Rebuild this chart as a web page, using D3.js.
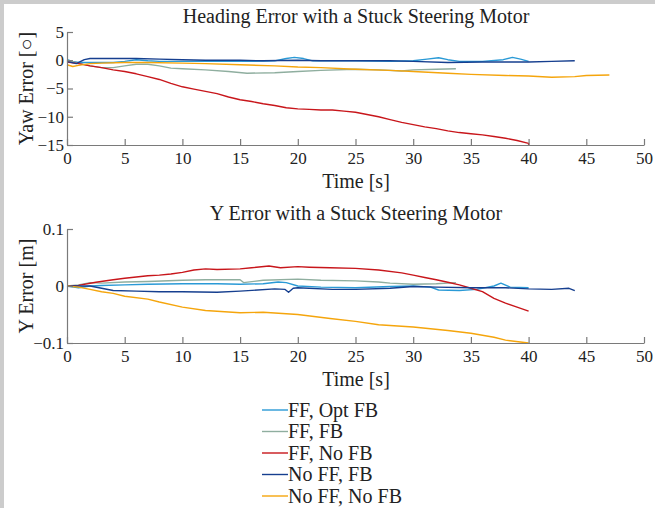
<!DOCTYPE html>
<html>
<head>
<meta charset="utf-8">
<script src="https://cdn.jsdelivr.net/npm/d3@7"></script>
<style>
  body { margin: 0; background: #fff; }
  svg text { font-family: "Liberation Serif", "DejaVu Serif", serif; fill: #222; }
</style>
</head>
<body>
<div id="chart"></div>
<script>
// Series labels and colours
const seriesNames = ["FF, Opt FB", "FF, FB", "FF, No FB", "No FF, FB", "No FF, No FB"];
const seriesColors = ["#2a9ad6", "#8fae9f", "#c8161b", "#163f8f", "#f5a50c"];

// Heading (yaw) error in degrees, [time, value]
const yawOptFB = [[0,0.1],[0.5,-0.2],[1,-0.4],[2,-0.4],[3,-0.4],[4,-0.4],[5,-0.2],[6,0.1],[7,-0.1],[8,-0.2],[10,-0.2],[12,-0.2],[14,-0.2],[16,-0.2],[18,-0.1],[19,0.3],[19.7,0.5],[20.5,0.3],[21.3,-0.1],[23,-0.1],[25,-0.1],[28,-0.2],[30,-0.1],[31.2,0.2],[32.2,0.45],[33,0.1],[34,-0.2],[36,-0.2],[37.8,0.1],[38.6,0.5],[39.3,0.2],[40,-0.2]];
const yawFB = [[0,0],[1,-0.5],[2,-1.0],[3,-1.3],[4,-1.3],[5,-1.0],[6,-0.7],[7,-0.7],[8,-1.0],[9,-1.4],[10,-1.5],[12,-1.7],[14,-2.0],[15.6,-2.3],[18,-2.2],[20,-2.0],[22,-1.8],[25,-1.6],[27,-1.7],[29,-1.9],[30,-1.7],[32,-1.6],[33.7,-1.5]];
const yawNoFB = [[0,-0.3],[1,-0.6],[2,-1.0],[3,-1.3],[4,-1.7],[5,-2.0],[6,-2.4],[7,-2.9],[8,-3.4],[9,-4.1],[10,-4.7],[11,-5.1],[12,-5.5],[13,-5.9],[14,-6.5],[15,-7.0],[16,-7.3],[17,-7.7],[18,-8.0],[19,-8.4],[20,-8.6],[21,-8.7],[22,-8.8],[23,-8.8],[24,-9.0],[25,-9.2],[26,-9.6],[27,-10.0],[28,-10.5],[29,-11.0],[30,-11.4],[31,-11.8],[32,-12.1],[33,-12.5],[34,-12.8],[35,-13.0],[36,-13.2],[37,-13.5],[38,-13.8],[39,-14.2],[40,-14.7],[40,-15]];
const yawNoFFFB = [[0,-0.2],[0.8,-0.6],[1.5,0.1],[2,0.3],[4,0.3],[6,0.3],[8,0.2],[10,0.1],[12,0],[15,0],[17,-0.1],[20,0],[22,-0.1],[25,-0.1],[28,-0.1],[30,-0.2],[33,-0.4],[36,-0.3],[40,-0.3],[42,-0.2],[44,-0.1]];
const yawNoFFNoFB = [[0,-0.8],[0.5,-1.1],[1,-0.9],[2,-0.6],[3,-0.5],[5,-0.4],[7,-0.4],[10,-0.5],[12,-0.6],[15,-0.8],[18,-1.0],[20,-1.2],[22,-1.3],[25,-1.6],[28,-1.8],[30,-2.0],[33,-2.3],[35,-2.5],[38,-2.7],[40,-2.8],[42,-3.0],[44,-2.9],[45,-2.7],[47,-2.6]];

// Lateral (Y) error in metres, [time, value]
const yOptFB = [[0,0],[1,-0.003],[2,0],[3,0.001],[5,0.002],[7,0.003],[10,0.004],[13,0.004],[15,0.003],[17,0.004],[18.3,0.007],[19,0.006],[20,0],[22,-0.002],[25,-0.003],[28,-0.001],[30,0],[31.5,-0.002],[32.2,-0.007],[34,-0.008],[35.5,-0.006],[37,0],[37.6,0.005],[38.4,-0.002],[40,-0.003]];
const yFB = [[0,0],[1,0.002],[2,0.006],[3,0.005],[5,0.007],[7,0.008],[10,0.01],[12,0.011],[15,0.011],[15.3,0.006],[17,0.01],[20,0.012],[22,0.01],[25,0.009],[27,0.007],[28,0.005],[30,0.003],[32,0.004],[33.7,0.006]];
const yNoFB = [[0,0],[1,0.001],[2.5,0.0065],[4,0.011],[5,0.0135],[7,0.018],[8,0.019],[9,0.021],[10,0.024],[11,0.028],[12,0.03],[13,0.029],[15,0.03],[16,0.032],[17.5,0.035],[18.5,0.032],[20,0.034],[21,0.033],[22.8,0.032],[25,0.031],[27,0.028],[29,0.023],[30,0.019],[31,0.015],[32,0.011],[33,0.0065],[34,0.002],[35,-0.004],[36,-0.01],[37,-0.0216],[38,-0.03],[39,-0.037],[40,-0.044]];
const yNoFFFB = [[0,0],[2,0],[3,-0.004],[4,-0.008],[6,-0.009],[8,-0.01],[10,-0.01],[13,-0.011],[15,-0.009],[18,-0.005],[18.9,-0.006],[19.2,-0.011],[19.6,-0.004],[20,-0.003],[23,-0.006],[25,-0.006],[28,-0.004],[30,-0.001],[32,-0.002],[35,-0.003],[38,-0.003],[40,-0.005],[42,-0.006],[43.5,-0.004],[44,-0.008]];
const yNoFFNoFB = [[0,0],[1,-0.002],[2,-0.006],[3,-0.01],[4,-0.013],[5,-0.018],[7,-0.023],[8,-0.028],[10,-0.037],[12,-0.043],[15,-0.047],[17,-0.046],[20,-0.05],[22.8,-0.057],[25,-0.062],[27,-0.068],[30,-0.072],[33,-0.078],[35,-0.083],[37,-0.09],[38,-0.095],[40,-0.1]];

const yawSeries = [yawOptFB, yawFB, yawNoFB, yawNoFFFB, yawNoFFNoFB];
const ySeries = [yOptFB, yFB, yNoFB, yNoFFFB, yNoFFNoFB];

const xTicks = [0, 5, 10, 15, 20, 25, 30, 35, 40, 45, 50];
const yawTicks = [5, 0, -5, -10, -15];
const yTicks = [0.1, 0, -0.1];

const width = 655, height = 508;
const axisColor = "#7a7a7a";

const svg = d3.select("#chart").append("svg")
  .attr("width", width)
  .attr("height", height);

svg.append("rect").attr("width", width).attr("height", height).attr("fill", "#fff");
// gray frame strip at the top and left
svg.append("rect").attr("x", 0).attr("y", 0).attr("width", width).attr("height", 4).attr("fill", "#cccccc");
svg.append("rect").attr("x", 0).attr("y", 0).attr("width", 4).attr("height", height).attr("fill", "#cccccc");

const x = d3.scaleLinear().domain([0, 50]).range([67, 644]);

function drawPanel(opts) {
  const y = d3.scaleLinear().domain(opts.domain).range([opts.bottom, opts.top]);
  const g = svg.append("g");

  const line = d3.line().x(d => x(d[0])).y(d => y(d[1]));
  g.selectAll(".series")
    .data(opts.series)
    .join("path")
    .attr("class", "series")
    .attr("fill", "none")
    .attr("stroke", (d, i) => seriesColors[i])
    .attr("stroke-width", 1.4)
    .attr("stroke-linejoin", "round")
    .attr("d", line);

  // bottom axis, ticks pointing inward
  const xAxis = g.append("g")
    .attr("transform", `translate(0,${opts.bottom})`)
    .call(d3.axisBottom(x).tickValues(xTicks).tickSizeInner(-6).tickSizeOuter(0).tickPadding(7));
  // left axis, ticks pointing inward
  const yAxis = g.append("g")
    .attr("transform", `translate(${x(0)},0)`)
    .call(d3.axisLeft(y).tickValues(opts.ticks).tickFormat(opts.fmt).tickSizeInner(-6).tickSizeOuter(0).tickPadding(3));

  [xAxis, yAxis].forEach(a => {
    a.select(".domain").attr("stroke", axisColor).attr("stroke-width", 1.2);
    a.selectAll(".tick line").attr("stroke", axisColor).attr("stroke-width", 1.2);
    a.selectAll(".tick text").attr("fill", "#222").style("font-size", "17px")
      .style("font-family", '"Liberation Serif", serif');
  });
  xAxis.selectAll(".tick text").attr("dy", "0.71em");
  yAxis.selectAll(".tick text").attr("dy", "0.32em");

  svg.append("text")
    .attr("x", 356).attr("y", opts.top - 9)
    .attr("text-anchor", "middle")
    .style("font-size", "20px")
    .text(opts.title);

  svg.append("text")
    .attr("x", 356).attr("y", opts.bottom + 43)
    .attr("text-anchor", "middle")
    .style("font-size", "20px")
    .text("Time [s]");

  svg.append("text")
    .attr("transform", `translate(33,${(opts.top + opts.bottom) / 2}) rotate(-90)`)
    .attr("text-anchor", "middle")
    .style("font-size", "20px")
    .text(opts.ylabel);
}

drawPanel({
  series: yawSeries, domain: [-15, 5], top: 32, bottom: 145,
  ticks: yawTicks, fmt: d3.format("d"),
  title: "Heading Error with a Stuck Steering Motor",
  ylabel: "Yaw Error [\u25CB]"
});

drawPanel({
  series: ySeries, domain: [-0.1, 0.1], top: 229, bottom: 343,
  ticks: yTicks, fmt: d => d === 0 ? "0" : d3.format(".1f")(d),
  title: "Y Error with a Stuck Steering Motor",
  ylabel: "Y Error [m]"
});

// legend
const legend = svg.append("g").attr("transform", "translate(262,410)");
const rows = legend.selectAll("g")
  .data(seriesNames)
  .join("g")
  .attr("transform", (d, i) => `translate(0,${i * 21.5})`);
rows.append("line")
  .attr("x1", 0).attr("x2", 26).attr("y1", 0).attr("y2", 0)
  .attr("stroke", (d, i) => seriesColors[i]).attr("stroke-width", 1.4);
rows.append("text")
  .attr("x", 26).attr("y", 0).attr("dy", "0.33em")
  .style("font-size", "20px")
  .text(d => d);
</script>
</body>
</html>
